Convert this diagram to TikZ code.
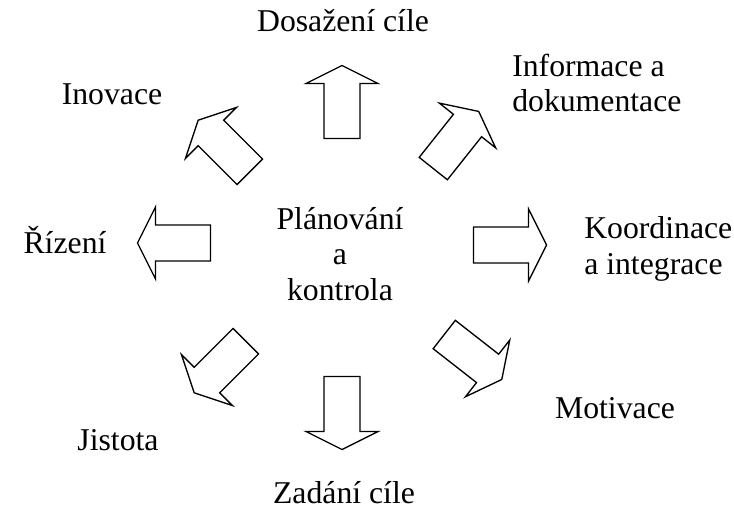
\documentclass[tikz,border=0pt]{standalone}
\usepackage{fontspec}
\setmainfont{Liberation Serif}
\usepackage{tikz}
\usetikzlibrary{calc}
\tikzset{>=latex}
\tikzset{
  label text/.style = {inner sep = 0, font = \fontsize{23.8}{26.5}\selectfont},
  pics/planarrow/.style = {code = {
    \draw[line width = 1pt, line join = miter] (-36.5,-18) -- (18.5,-18) -- (18.5,-36) -- (36.5,0)
      -- (18.5,36) -- (18.5,18) -- (-36.5,18) -- cycle;
  }}
}

\begin{document}
\begin{tikzpicture}[x = 0.75pt, y = 0.75pt]
\useasboundingbox (0,0) rectangle (734,508);
% middle
\node[label text, align = center] (plan) at (340,254) {Plánování\\a\\kontrola};
% arrows around
\pic[rotate = 90] at (342,406) {planarrow};
\pic[rotate = 51.5] at (456,368) {planarrow};
\pic at (510,263) {planarrow};
\pic[rotate = -38] at (473,151) {planarrow};
\pic[rotate = -90] at (342,95) {planarrow};
\pic[rotate = 225] at (220,141) {planarrow};
\pic[rotate = 180] at (174,265) {planarrow};
\pic[rotate = 135] at (224,362) {planarrow};
% labels
\node[label text, anchor = base] (dosazeni) at (343,476) {Dosažení cíle};
\node[label text, anchor = west, align = left] (informace) at (512,425) {Informace a\\dokumentace};
\node[label text, anchor = west, align = left] (koordinace) at (584,259) {Koordinace\\a integrace};
\node[label text, anchor = base] (motivace) at (615,90) {Motivace};
\node[label text, anchor = base] (zadani) at (344,5) {Zadání cíle};
\node[label text, anchor = base] (jistota) at (118,58) {Jistota};
\node[label text, anchor = base] (rizeni) at (65,255) {Řízení};
\node[label text, anchor = base] (inovace) at (112,403) {Inovace};
\end{tikzpicture}
\end{document}
